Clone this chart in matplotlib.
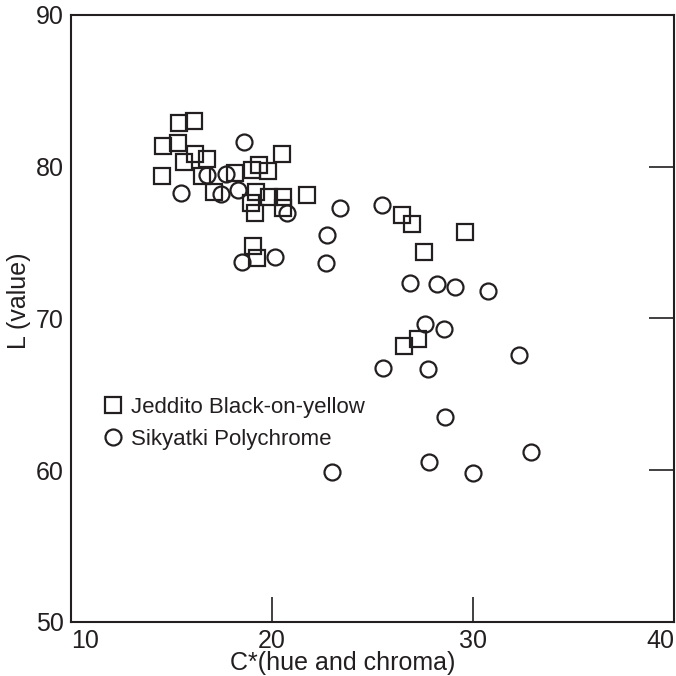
import numpy as np
import matplotlib.pyplot as plt

plt.rcParams['font.family'] = ['Liberation Sans', 'DejaVu Sans']

# Jeddito Black-on-yellow (C*, L)
jed_c = [15.37, 16.12, 14.58, 15.30, 16.17, 16.77, 15.60, 14.51, 16.52, 17.11,
         18.18, 19.03, 19.37, 19.79, 20.52, 19.20, 18.94, 19.15, 19.85, 20.56,
         20.53, 21.74, 19.07, 19.23, 26.45, 26.98, 29.60, 27.58, 27.28, 26.57]
jed_l = [82.88, 83.01, 81.37, 81.53, 80.81, 80.51, 80.28, 79.41, 79.41, 78.34,
         79.59, 79.75, 80.12, 79.71, 80.84, 78.34, 77.61, 76.95, 78.01, 78.01,
         77.28, 78.11, 74.78, 73.97, 76.82, 76.23, 75.68, 74.36, 68.65, 68.21]

# Sikyatki Polychrome (C*, L)
sik_c = [18.61, 15.47, 16.77, 17.69, 17.46, 18.32, 20.73, 18.52, 20.15, 22.75,
         22.67, 23.38, 25.46, 26.87, 28.19, 29.10, 30.76, 27.61, 28.56, 32.30,
         25.54, 27.75, 28.61, 27.81, 29.99, 32.89, 22.99]
sik_l = [81.60, 78.30, 79.46, 79.51, 78.22, 78.47, 76.92, 73.74, 74.02, 75.50,
         73.64, 77.28, 77.48, 72.32, 72.25, 72.09, 71.82, 69.64, 69.30, 67.58,
         66.76, 66.67, 63.48, 60.56, 59.79, 61.22, 59.89]

ink = '#231f20'

fig = plt.figure(figsize=(6.76, 6.76), dpi=100)
ax = fig.add_axes([0.105, 0.0799, 0.892, 0.898])

ax.plot(jed_c, jed_l, linestyle='none', marker='s', markersize=11.5,
        markerfacecolor='none', markeredgecolor=ink, markeredgewidth=1.6,
        label='Jeddito Black-on-yellow')
ax.plot(sik_c, sik_l, linestyle='none', marker='o', markersize=11.5,
        markerfacecolor='none', markeredgecolor=ink, markeredgewidth=1.6,
        label='Sikyatki Polychrome')

ax.set_xlim(10, 40)
ax.set_ylim(50, 90)
ax.set_xticks([10, 20, 30, 40])
ax.set_yticks([50, 60, 70, 80, 90])

for s in ax.spines.values():
    s.set_linewidth(1.5)
    s.set_color(ink)

ax.tick_params(axis='x', direction='in', length=18, width=1.2, color=ink,
               labelsize=18, labelcolor=ink, pad=5)
ax.tick_params(axis='y', direction='in', length=18, width=1.2, color=ink,
               left=False, right=True, labelleft=True, labelsize=18,
               labelcolor=ink, pad=5)

xl = ax.get_xticklabels()
xl[0].set_ha('left')
xl[-1].set_ha('right')

ax.set_xlabel('C*(hue and chroma)', fontsize=18, color=ink)
ax.set_ylabel('L (value)', fontsize=18, color=ink)
ax.xaxis.set_label_coords(0.45, -0.048)
ax.yaxis.set_label_coords(-0.066, 0.53)

ax.legend(loc='upper left', bbox_to_anchor=(0.037, 0.385), frameon=False,
          fontsize=16, handletextpad=0.3, labelspacing=0.5,
          handlelength=1.0, borderaxespad=0, labelcolor=ink)

fig.savefig('out.png', dpi=100)
